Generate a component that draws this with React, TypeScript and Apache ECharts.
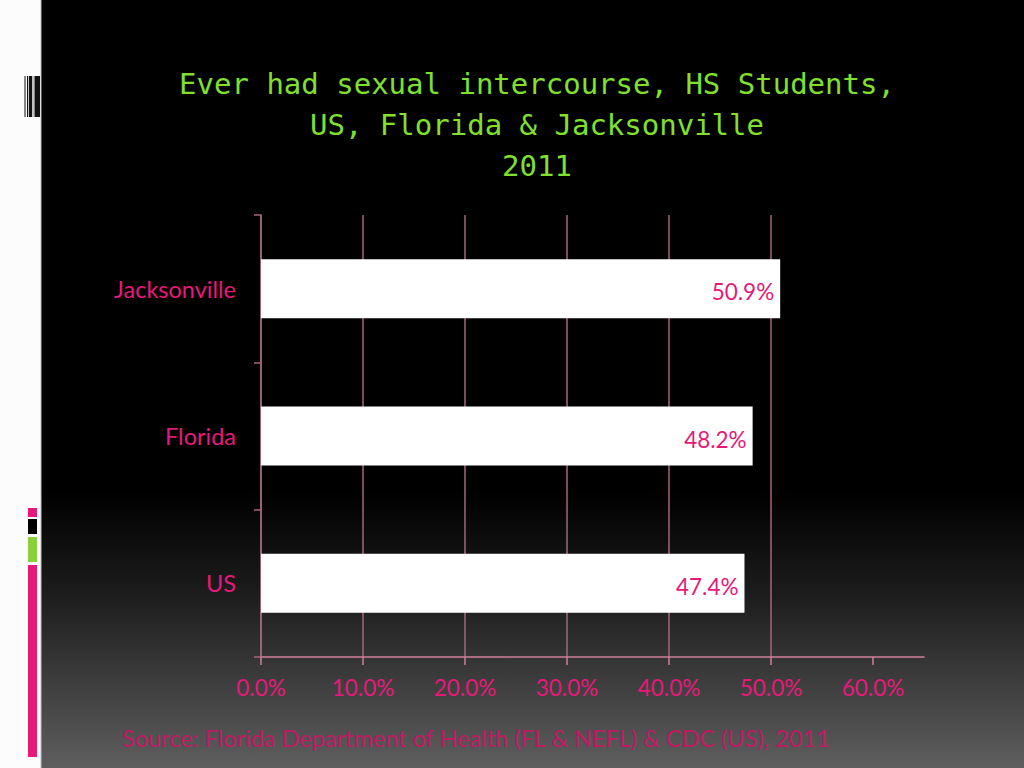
import * as echarts from "echarts"
import { useEffect, useRef } from "react"

// Slide-style horizontal bar chart: share of HS students who ever had sexual intercourse, 2011.
const categories = ["Jacksonville", "Florida", "US"]
const values = [50.9, 48.2, 47.4]
const tickValues = [0, 10, 20, 30, 40, 50, 60]
const titleLines = ["Ever had sexual intercourse, HS Students,", "US, Florida & Jacksonville", "2011"]
const sourceText = "Source: Florida Department of Health (FL & NEFL) & CDC (US), 2011"

const PINK = "#e6197a"
const GRID = "#a8647e"
const AXIS = "#cf7f9c"

export default function App() {
  const ref = useRef<HTMLDivElement>(null)

  useEffect(() => {
    if (!ref.current) return
    const chart = echarts.init(ref.current, null, { renderer: "svg" })

    // left white strip with its little barcode and colour blocks
    const strip = [
      { type: "rect", shape: { x: 0, y: 0, width: 41, height: 768 }, style: { fill: "#fcfcfc" } },
      { type: "rect", shape: { x: 40.5, y: 0, width: 1, height: 768 }, style: { fill: "#bdbdbd" } },
      { type: "rect", shape: { x: 24.5, y: 76, width: 1, height: 41 }, style: { fill: "#111" } },
      { type: "rect", shape: { x: 27, y: 76, width: 1.2, height: 41 }, style: { fill: "#111" } },
      { type: "rect", shape: { x: 29, y: 76, width: 3, height: 41 }, style: { fill: "#111" } },
      { type: "rect", shape: { x: 32.5, y: 76, width: 1, height: 41 }, style: { fill: "#888" } },
      { type: "rect", shape: { x: 34.5, y: 76, width: 5.5, height: 41 }, style: { fill: "#111" } },
      { type: "rect", shape: { x: 28, y: 508, width: 9, height: 9 }, style: { fill: PINK } },
      { type: "rect", shape: { x: 28, y: 519, width: 9, height: 15 }, style: { fill: "#000" } },
      { type: "rect", shape: { x: 28, y: 537, width: 9, height: 25 }, style: { fill: "#8ad03a" } },
      { type: "rect", shape: { x: 28, y: 565, width: 9, height: 192 }, style: { fill: PINK } },
    ]

    chart.setOption({
      animation: false,
      backgroundColor: new echarts.graphic.LinearGradient(0, 0, 0, 1, [
        { offset: 0, color: "#000000" },
        { offset: 0.64, color: "#000000" },
        { offset: 0.78, color: "#1e1e1e" },
        { offset: 1, color: "#5e5e5e" },
      ]),
      graphic: [
        ...strip,
        {
          type: "text",
          x: 537,
          y: 63,
          style: {
            text: titleLines.join("\n"),
            fill: "#80e02c",
            font: '29px "DejaVu Sans Mono", "Liberation Mono", monospace',
            lineHeight: 41,
            textAlign: "center",
            textVerticalAlign: "top",
          },
        },
        {
          type: "text",
          x: 122,
          y: 738,
          style: {
            text: sourceText,
            fill: "#bf1a62",
            font: "23.5px Lato, sans-serif",
            textAlign: "left",
            textVerticalAlign: "middle",
          },
        },
      ],
      grid: { left: 261, top: 215, right: 100, bottom: 111, containLabel: false },
      xAxis: {
        type: "value",
        min: 0,
        max: 65,
        interval: 10,
        axisLine: { show: true, lineStyle: { color: AXIS, width: 1.5 } },
        axisTick: { show: true, length: 8, customValues: tickValues, lineStyle: { color: AXIS, width: 1.5 } },
        axisLabel: {
          customValues: tickValues,
          formatter: (v: number) => v.toFixed(1) + "%",
          color: PINK,
          fontSize: 22.5,
          fontFamily: "Lato, sans-serif",
          margin: 19,
        },
        splitLine: { show: true, showMaxLine: false, lineStyle: { color: GRID, width: 1.5 } },
      },
      yAxis: {
        type: "category",
        data: categories,
        inverse: true,
        axisLine: { show: true, lineStyle: { color: GRID, width: 1.5 } },
        axisTick: { show: true, length: 7, alignWithLabel: false, lineStyle: { color: GRID, width: 1.5 } },
        axisLabel: { color: PINK, fontSize: 23.5, fontFamily: "Lato, sans-serif", margin: 25 },
      },
      series: [
        {
          type: "bar",
          data: values,
          barWidth: "40%",
          itemStyle: { color: "#ffffff" },
          label: {
            show: true,
            position: "insideRight",
            distance: 6,
            offset: [0, 3],
            formatter: (p: { value: number }) => p.value.toFixed(1) + "%",
            color: PINK,
            fontSize: 22.5,
            fontFamily: "Lato, sans-serif",
          },
        },
      ],
    })

    return () => chart.dispose()
  }, [])

  return <div ref={ref} style={{ position: "fixed", left: 0, top: 0, width: 1024, height: 768 }} />
}
